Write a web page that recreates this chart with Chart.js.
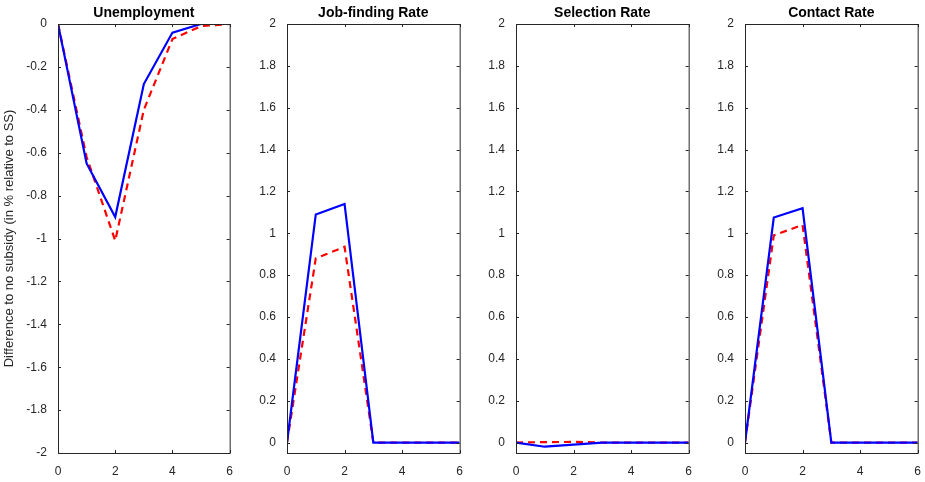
<!DOCTYPE html>
<html><head>
<script src="https://cdn.jsdelivr.net/npm/chart.js@4"></script>
<style>
body{margin:0;background:#fff;width:925px;height:482px;position:relative;overflow:hidden}
canvas{position:absolute;top:0}
</style></head><body>
<canvas id="c1" style="left:0px"></canvas>
<canvas id="c2" style="left:240px"></canvas>
<canvas id="c3" style="left:469px"></canvas>
<canvas id="c4" style="left:698px"></canvas>
<script>
const periods = [0, 1, 2, 3, 4, 5, 6];
const titles = ["Unemployment", "Job-finding Rate", "Selection Rate", "Contact Rate"];
const blueSeries = [
  [0, -0.65, -0.90, -0.28, -0.04, 0, 0],
  [0, 1.09, 1.14, 0, 0, 0, 0],
  [0, -0.02, -0.01, 0, 0, 0, 0],
  [0, 1.075, 1.12, 0, 0, 0, 0]
];
const redSeries = [
  [0, -0.62, -1.01, -0.40, -0.07, -0.01, 0],
  [0, 0.88, 0.935, 0, 0, 0, 0],
  [0, 0.002, 0.003, 0, 0, 0, 0],
  [0, 0.99, 1.04, 0, 0, 0, 0]
];
const yRanges = [[-2, 0], [-0.05, 2], [-0.05, 2], [-0.05, 2]];

const FONT = "'Liberation Sans', Arial, sans-serif";

// box round the plot, inward tick marks, and the panel title
const frame = {
  id: "frame",
  afterDraw(chart, args, opts) {
    const a = chart.chartArea, ctx = chart.ctx;
    const xs = chart.scales.x, ys = chart.scales.y;
    ctx.save();
    ctx.strokeStyle = "#262626";
    ctx.lineWidth = 1;
    ctx.strokeRect(a.left + 0.5, a.top + 0.5, a.right - a.left, a.bottom - a.top);
    ctx.beginPath();
    xs.ticks.forEach(t => {
      const px = Math.round(xs.getPixelForValue(t.value)) + 0.5;
      ctx.moveTo(px, a.bottom); ctx.lineTo(px, a.bottom - 3);
      ctx.moveTo(px, a.top); ctx.lineTo(px, a.top + 3);
    });
    ys.ticks.forEach(t => {
      const py = Math.round(ys.getPixelForValue(t.value)) + 0.5;
      ctx.moveTo(a.left, py); ctx.lineTo(a.left + 3, py);
      ctx.moveTo(a.right, py); ctx.lineTo(a.right - 3, py);
    });
    ctx.stroke();
    ctx.fillStyle = "#000";
    ctx.font = "bold 14px " + FONT;
    ctx.textAlign = "center";
    ctx.fillText(opts.text, (a.left + a.right) / 2, 17);
    ctx.restore();
  }
};

function makeChart(i) {
  const cv = document.getElementById("c" + (i + 1));
  const w = i === 0 ? 236 : 226;
  cv.width = w; cv.height = 482;
  cv.style.width = w + "px"; cv.style.height = "482px";
  const yw = i === 0 ? 58 : 47;
  new Chart(cv, {
    type: "line",
    data: {
      datasets: [
        { data: periods.map((x, k) => ({ x, y: blueSeries[i][k] })), borderColor: "#0000ff", borderWidth: 2.2, pointRadius: 0, tension: 0 },
        { data: periods.map((x, k) => ({ x, y: redSeries[i][k] })), borderColor: "#ff0000", borderWidth: 2.2, borderDash: [7, 5], pointRadius: 0, tension: 0 }
      ]
    },
    options: {
      responsive: false, animation: false,
      layout: { padding: { top: 24, right: 5 } },
      plugins: { legend: { display: false }, tooltip: { enabled: false }, frame: { text: titles[i] } },
      scales: {
        x: {
          type: "linear", min: 0, max: 6,
          grid: { display: false },
          border: { display: false },
          ticks: { stepSize: 2, color: "#262626", font: { size: 12, family: FONT } },
          afterFit: s => { s.height = 29; }
        },
        y: {
          min: yRanges[i][0], max: yRanges[i][1],
          grid: { display: false },
          border: { display: false },
          afterBuildTicks: s => {
            const t = [];
            for (let v = 0; v <= 10; v++) t.push({ value: i === 0 ? -v * 0.2 : v * 0.2 });
            s.ticks = t;
          },
          ticks: {
            color: "#262626", font: { size: 12, family: FONT },
            callback: v => { const r = Math.round(v * 10) / 10; return r === 0 ? "0" : String(r); }
          },
          title: { display: i === 0, text: "Difference to no subsidy (in % relative to SS)", color: "#262626", font: { size: 13, family: FONT }, padding: 2 },
          afterFit: s => { s.width = yw; }
        }
      }
    },
    plugins: [frame]
  });
}
for (let i = 0; i < 4; i++) makeChart(i);
</script>
</body></html>
